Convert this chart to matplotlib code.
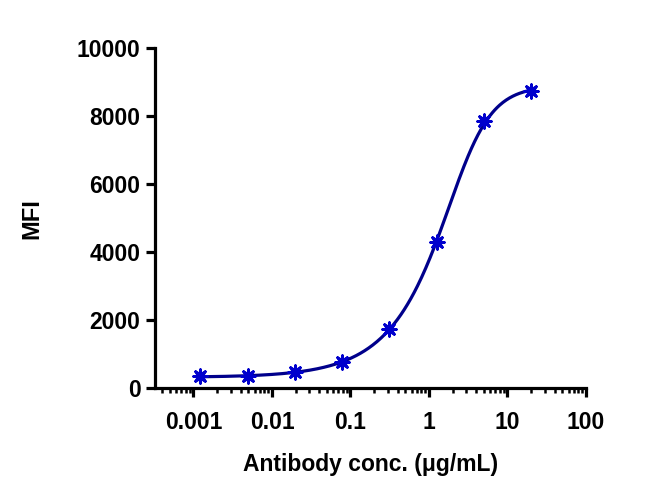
import numpy as np
import matplotlib
matplotlib.use("Agg")
import matplotlib.pyplot as plt
from matplotlib.ticker import LogLocator, FixedLocator, NullFormatter, FixedFormatter

# data (mean MFI per concentration)
conc = [0.00122, 0.00488, 0.0195, 0.078, 0.3125, 1.25, 5, 20]
mfi = [362, 365, 471, 765, 1740, 4310, 7860, 8740]

# fitted sigmoidal (5PL) parameters
fit_bottom = 315.4
fit_top = 8887.8
fit_ec = 2.7936
fit_hill = 1.7671
fit_s = 0.4644

x_ticks = [0.001, 0.01, 0.1, 1, 10, 100]
x_tick_labels = ["0.001", "0.01", "0.1", "1", "10", "100"]
y_ticks = [0, 2000, 4000, 6000, 8000, 10000]
x_label = "Antibody conc. (μg/mL)"
y_label = "MFI"

plt.rcParams['font.family'] = ['Liberation Sans', 'DejaVu Sans']
plt.rcParams['font.weight'] = 'bold'

fig = plt.figure(figsize=(6.59, 5.0), dpi=100)
ax = fig.add_axes([155 / 659, 112 / 500, 431 / 659, 339.8 / 500])

xc = np.logspace(np.log10(conc[0]), np.log10(conc[-1]), 400)
yc = fit_bottom + (fit_top - fit_bottom) / (1 + (fit_ec / xc) ** fit_hill) ** fit_s
ax.plot(xc, yc, color='#00008B', lw=2.3, zorder=2)

ax.scatter(conc, mfi, s=55, marker='o', color='#0000CD', zorder=3, linewidths=0)
ax.scatter(conc, mfi, s=95, marker=(8, 2, 0), color='#0000CD', zorder=3, linewidths=2.0)

ax.set_xscale('log')
ax.set_xlim(10 ** -3.49, 100)
ax.set_ylim(0, 10000)

ax.xaxis.set_major_locator(FixedLocator(x_ticks))
ax.xaxis.set_major_formatter(FixedFormatter(x_tick_labels))
ax.xaxis.set_minor_locator(LogLocator(base=10, subs=np.arange(2, 10), numticks=20))
ax.xaxis.set_minor_formatter(NullFormatter())
ax.set_yticks(y_ticks)
ax.set_yticklabels([str(v) for v in y_ticks])

for side in ['top', 'right']:
    ax.spines[side].set_visible(False)
for side in ['left', 'bottom']:
    ax.spines[side].set_linewidth(2.3)
    ax.spines[side].set_color('black')

ax.tick_params(axis='both', which='major', length=6.5, width=2.3, labelsize=16.5, color='black')
ax.tick_params(axis='x', which='minor', length=3.5, width=1.8, color='black')
ax.tick_params(axis='x', which='major', pad=10)
ax.tick_params(axis='y', which='major', pad=4)
for lab in ax.get_xticklabels() + ax.get_yticklabels():
    lab.set_fontweight('bold')

ax.set_xlabel(x_label, fontsize=16.5, fontweight='bold', labelpad=14)
ax.set_ylabel(y_label, fontsize=17, fontweight='bold', labelpad=24)

fig.savefig("out.png", dpi=100)
